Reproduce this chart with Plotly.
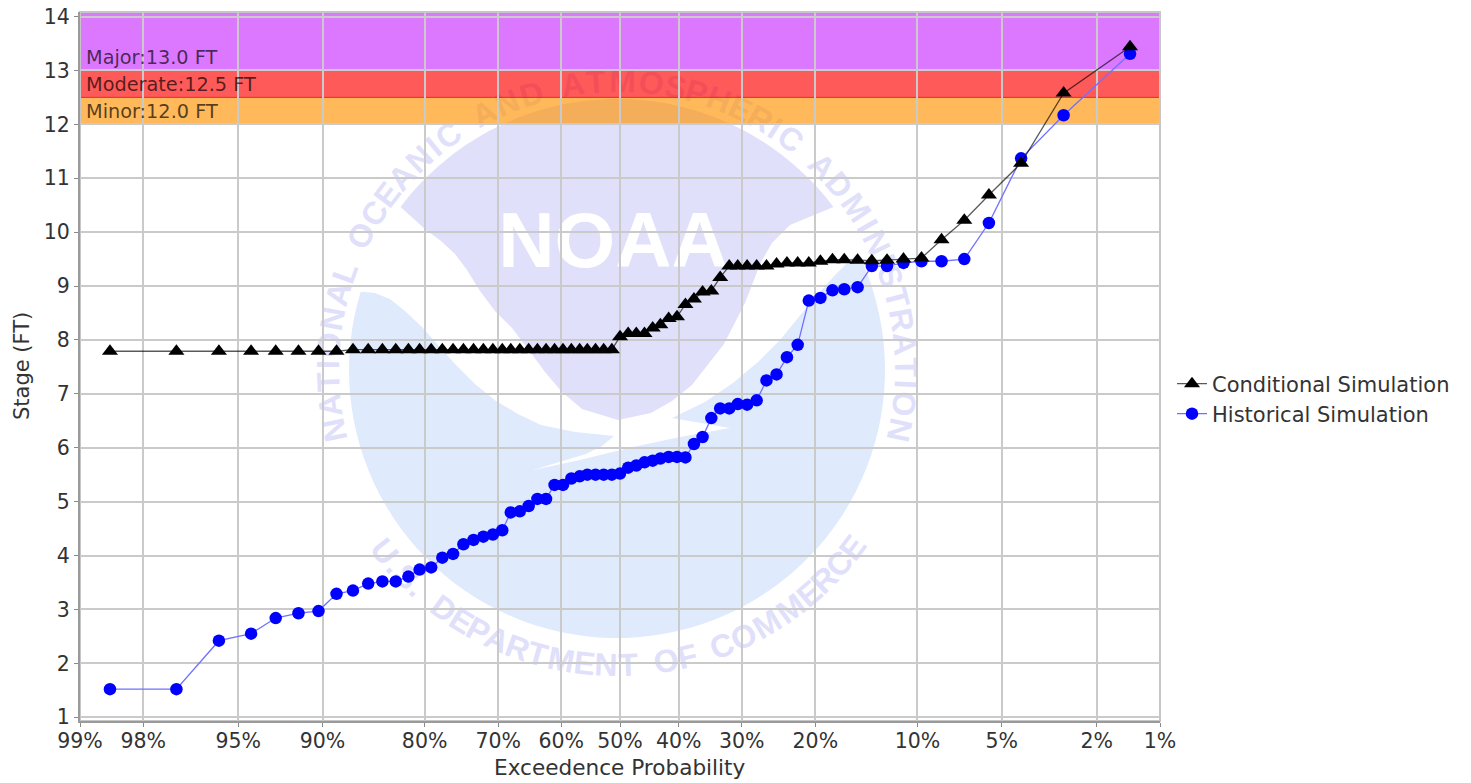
import math
from statistics import NormalDist
import plotly.graph_objects as go

tick_pct = [99, 98, 95, 90, 80, 70, 60, 50, 40, 30, 20, 10, 5, 2, 1]
exceedance = [98.6, 97.2, 95.8, 94.4, 93.1, 91.7, 90.3, 88.9, 87.5, 86.1, 84.7, 83.3,
              81.9, 80.6, 79.2, 77.8, 76.4, 75.0, 73.6, 72.2, 70.8, 69.4, 68.1, 66.7,
              65.3, 63.9, 62.5, 61.1, 59.7, 58.3, 56.9, 55.6, 54.2, 52.8, 51.4, 50.0,
              48.6, 47.2, 45.8, 44.4, 43.1, 41.7, 40.3, 38.9, 37.5, 36.1, 34.7, 33.3,
              31.9, 30.6, 29.2, 27.8, 26.4, 25.0, 23.6, 22.2, 20.8, 19.4, 18.0, 16.7,
              15.3, 13.9, 12.5, 11.1, 9.7, 8.3, 6.9, 5.6, 4.2, 2.8, 1.4]
conditional = [7.79, 7.79, 7.79, 7.79, 7.79, 7.79, 7.79, 7.79, 7.82, 7.82, 7.82, 7.82,
               7.82, 7.82, 7.82, 7.82, 7.82, 7.82, 7.82, 7.82, 7.82, 7.82, 7.82, 7.82,
               7.82, 7.82, 7.82, 7.82, 7.82, 7.82, 7.82, 7.82, 7.82, 7.82, 7.82, 8.06,
               8.12, 8.12, 8.12, 8.22, 8.28, 8.40, 8.43, 8.66, 8.76, 8.89, 8.91, 9.16,
               9.37, 9.37, 9.37, 9.37, 9.37, 9.41, 9.43, 9.43, 9.43, 9.46, 9.49, 9.49,
               9.48, 9.47, 9.48, 9.50, 9.52, 9.86, 10.22, 10.69, 11.28, 12.58, 13.44]
historical = [1.52, 1.52, 2.42, 2.55, 2.84, 2.93, 2.97, 3.29, 3.35, 3.48, 3.52, 3.52,
              3.61, 3.74, 3.78, 3.96, 4.03, 4.21, 4.29, 4.35, 4.39, 4.47, 4.80, 4.82,
              4.92, 5.05, 5.05, 5.31, 5.31, 5.43, 5.47, 5.50, 5.50, 5.50, 5.50, 5.52,
              5.63, 5.67, 5.73, 5.76, 5.80, 5.83, 5.83, 5.82, 6.07, 6.20, 6.55, 6.73,
              6.73, 6.81, 6.80, 6.88, 7.25, 7.36, 7.68, 7.91, 8.73, 8.78, 8.92, 8.94,
              8.98, 9.37, 9.37, 9.43, 9.46, 9.46, 9.50, 10.17, 11.37, 12.17, 13.31]
flood_names = ["Minor", "Moderate", "Major"]
flood_levels = [12.0, 12.5, 13.0]

W, H = 1471, 783
L, R, T, B = 80, 1160, 12, 721
Y_MIN, Y_MAX = 0.93, 14.085
FONT = "DejaVu Sans"
TEXT = "#333333"

nd = NormalDist()
def z(p):
    return nd.inv_cdf(1 - p / 100)
def px(x):
    return (x - L) / (R - L)
def py(y):
    return (B - y) / (B - T)
def path(points):
    return "M" + "L".join(f"{px(a):.5f},{py(b):.5f}" for a, b in points) + "Z"
def arc(cx, cy, r, a0, a1, n=80):
    # angles are clockwise from the top, in degrees
    return [(cx + r * math.sin(math.radians(a0 + (a1 - a0) * i / n)),
             cy - r * math.cos(math.radians(a0 + (a1 - a0) * i / n))) for i in range(n + 1)]

BLUE_WM = "#dfeafd"
LAV_WM = "#e0e0fb"
CX, CY = 617, 370
shapes = []
# lower, light-blue part of the emblem
blue_pts = arc(CX, CY, 268, 64, 287) + [
    (375, 293), (390, 299), (405, 311), (422, 327), (438, 345), (455, 364), (475, 384), (496, 401),
    (518, 414), (541, 425), (575, 432), (614, 436), (602, 446), (586, 454), (533, 470),
    (580, 460), (633, 447), (680, 437), (730, 428), (672, 418), (705, 402), (733, 383), (758, 362),
    (780, 340), (807, 307), (835, 275)]
shapes.append(dict(type="path", path=path(blue_pts), xref="paper", yref="paper",
                   fillcolor=BLUE_WM, line=dict(width=0), layer="below"))
# upper, lavender part of the emblem
lav_pts = arc(CX, CY, 271, -53, 53) + [
    (790, 225), (772, 243), (761, 262), (745, 303), (724, 344), (692, 385), (672, 401), (651, 413),
    (618, 420), (582, 409), (562, 392), (545, 372), (528, 349), (512, 328), (495, 311), (480, 291),
    (467, 270), (455, 254), (441, 241), (426, 230)]
shapes.append(dict(type="path", path=path(lav_pts), xref="paper", yref="paper",
                   fillcolor=LAV_WM, line=dict(width=0), layer="below"))

def label_shape(x, y, text, angle, size, color, family=FONT, weight=400, hw=60):
    return dict(type="rect", xref="paper", yref="paper", x0=px(x - hw), x1=px(x + hw),
                y0=py(y + hw), y1=py(y - hw), fillcolor="rgba(0,0,0,0)", line=dict(width=0),
                layer="below",
                label=dict(text=text, textangle=angle, textposition="middle center",
                           font=dict(family=family, size=size, color=color, weight=weight)))

shapes.append(label_shape(613, 233, "NOAA", 0, 78, "#ffffff", "Liberation Sans", 700, 130))

WIDE = {"M": 1.25, "I": .5, " ": .7, ".": .5, "N": 1.05, "O": 1.1, "C": 1.0, "D": 1.05, "A": 1.0, "T": .9, "L": .8,
        "S": .9, "E": .85, "R": .95, "H": 1.05, "P": .85, "F": .8, "U": 1.05}
def ring(text, a0, a1, r, bottom):
    weights = [WIDE.get(c, 1) for c in text]
    tot = sum(weights) - (weights[0] + weights[-1]) / 2
    pos = -weights[0] / 2
    for c, w in zip(text, weights):
        pos += w / 2
        t = pos / tot
        pos += w / 2
        a = a0 + (a1 - a0) * t
        if c == " ":
            continue
        rad = math.radians(a)
        if bottom:
            x, y, rot = CX + r * math.sin(rad), CY + r * math.cos(rad), -a
        else:
            x, y, rot = CX + r * math.sin(rad), CY - r * math.cos(rad), a
        shapes.append(label_shape(x, y, c, rot, 32, LAV_WM, "Liberation Sans", 700, hw=30))

ring("NATIONAL OCEANIC AND ATMOSPHERIC ADMINISTRATION", -102, 102, 292, False)
ring("U.S. DEPARTMENT OF COMMERCE", -52, 53, 292, True)

# flood category bands
band_cols = ["rgba(255,146,2,0.65)", "rgba(255,2,2,0.65)", "rgba(201,47,255,0.65)"]
tops = flood_levels[1:] + [Y_MAX]
for lo, hi, col in zip(flood_levels, tops, band_cols):
    shapes.append(dict(type="rect", xref="paper", yref="y", x0=0, x1=1, y0=lo, y1=hi,
                       fillcolor=col, line=dict(width=1, color=col), layer="between"))

annotations = [dict(xref="paper", yref="y", x=px(84), y=lv, xanchor="left", yanchor="bottom",
                    yshift=-1, showarrow=False, text=f"{n}:{lv:.1f} FT",
                    font=dict(family=FONT, size=19.3, color="rgba(0,0,0,0.68)"))
               for n, lv in zip(flood_names, flood_levels)]
annotations.append(dict(xref="paper", yref="paper", x=px(620), y=py(768), xanchor="center", yanchor="middle",
                        showarrow=False, text="Exceedence Probability",
                        font=dict(family=FONT, size=21.6, color=TEXT)))
annotations.append(dict(xref="paper", yref="paper", x=px(22), y=py(366), xanchor="center", yanchor="middle",
                        showarrow=False, text="Stage (FT)", textangle=-90,
                        font=dict(family=FONT, size=21, color=TEXT)))

xs = [z(p) for p in exceedance]
fig = go.Figure()
fig.add_trace(go.Scatter(x=xs, y=historical, name="Historical Simulation", mode="lines+markers",
                         line=dict(color="#7070ff", width=1.3),
                         marker=dict(symbol="circle", size=12.5, color="#0000ff"),
                         legend="legend2", showlegend=True, cliponaxis=False))
fig.add_trace(go.Scatter(x=xs, y=conditional, name="Conditional Simulation", mode="lines+markers",
                         line=dict(color="rgba(0,0,0,0.65)", width=1.3),
                         marker=dict(symbol="triangle-up", size=14, color="#000000"),
                         legend="legend", showlegend=True, cliponaxis=False))

leg = dict(xanchor="left", yanchor="middle", bgcolor="rgba(0,0,0,0)", borderwidth=0,
           font=dict(family=FONT, size=21, color=TEXT), itemwidth=30)
fig.update_layout(
    width=W, height=H, margin=dict(l=L, r=W - R, t=T, b=H - B, pad=0),
    paper_bgcolor="#ffffff", plot_bgcolor="rgba(0,0,0,0)",
    font=dict(family=FONT, size=20.5, color=TEXT),
    shapes=shapes, annotations=annotations, hovermode=False, showlegend=True,
    legend=dict(x=px(1172), y=py(384), **leg),
    legend2=dict(x=px(1172), y=py(414), **leg),
    xaxis=dict(range=[z(99), z(1)], tickmode="array", tickvals=[z(p) for p in tick_pct],
               ticktext=[f"{p}%" for p in tick_pct], showgrid=True, gridcolor="#cacaca", gridwidth=1.5,
               zeroline=False, showline=True, linecolor="#9a9a9a", linewidth=2, mirror=False, automargin=False,
               ticks="outside", ticklen=4, tickcolor="#8a8a8a", tickangle=0, ticklabelstandoff=-4,
               tickfont=dict(family=FONT, size=20.5, color=TEXT)),
    yaxis=dict(range=[Y_MIN, Y_MAX], tickmode="array", tickvals=list(range(1, 15)),
               showgrid=True, gridcolor="#cacaca", gridwidth=1.5,
               zeroline=False, showline=True, linecolor="#9a9a9a", linewidth=2, mirror=False, automargin=False,
               ticks="outside", ticklen=4, tickcolor="#8a8a8a",
               tickfont=dict(family=FONT, size=20.5, color=TEXT)),
)
# light frame on the top and right edges
fig.add_shape(type="rect", xref="paper", yref="paper", x0=0, x1=1, y0=0, y1=1,
              line=dict(color="#c6c6c6", width=2), fillcolor="rgba(0,0,0,0)", layer="between")
fig.write_html("out.html", config=dict(displayModeBar=False),
               post_script="document.body.style.margin='0';")
